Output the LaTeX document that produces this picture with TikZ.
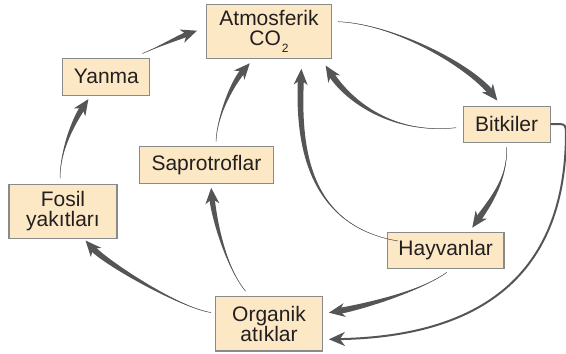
\documentclass[tikz,border=0pt]{standalone}
\usepackage{fontspec}
\setmainfont{Liberation Sans}
\usetikzlibrary{calc,arrows.meta}
\definecolor{boxfill}{HTML}{FCE8C4}
\definecolor{boxline}{HTML}{8A8A8A}
\definecolor{flow}{HTML}{545557}
\definecolor{ink}{HTML}{231F20}

% Tapered flow arrow: thin at the start, widening towards a filled head.
% #1 start, #2 first control, #3 second control, #4 tip, #5 shaft width at the head
\newcommand\tarrow[5]{%
  \coordinate (tS) at (#1);
  \coordinate (tA) at (#2);
  \coordinate (tC) at (#3);
  \coordinate (tT) at (#4);
  \coordinate (tE) at ($(tT)!9pt!(tC)$);
  \coordinate (tEL) at ($(tE)!#5/2!90:(tC)$);
  \coordinate (tER) at ($(tE)!#5/2!-90:(tC)$);
  \coordinate (tCL) at ($(tC)!#5/2!-90:(tE)$);
  \coordinate (tCR) at ($(tC)!#5/2!90:(tE)$);
  \fill[flow] (tS) .. controls (tA) and (tCL) .. (tEL) -- (tER) .. controls (tCR) and (tA) .. (tS) -- cycle;
  \draw[flow, line width=0.5pt] (tS) .. controls (tA) and (tC) .. (tE);
  \coordinate (tB) at ($(tT)!16pt!(tC)$);
  \coordinate (tI) at ($(tT)!11pt!(tC)$);
  \coordinate (tBL) at ($(tB)!7pt!90:(tT)$);
  \coordinate (tBR) at ($(tB)!7pt!-90:(tT)$);
  \fill[flow] (tT) -- (tBL) -- (tI) -- (tBR) -- cycle;
}

\begin{document}
\begin{tikzpicture}[x=1pt,y=-1pt,
  box/.style={draw=boxline, line width=1.1pt, fill=boxfill, inner sep=0pt,
    align=center, text=ink, font=\fontsize{21}{20}\selectfont}]
\useasboundingbox (0,0) rectangle (566,354);

% boxes
\node[box, minimum width=125pt, minimum height=54pt] (atm) at (269,31.7)
  {Atmosferik\\CO\hspace{1pt}\raisebox{-7pt}{\fontsize{12}{12}\selectfont 2}};
\node[box, minimum width=87pt, minimum height=36.7pt] (yan) at (106.4,76.7) {Yanma};
\node[box, minimum width=87pt, minimum height=36.3pt] (bit) at (506.6,124.2) {Bitkiler};
\node[box, minimum width=134pt, minimum height=37pt] (sap) at (206.4,165.2) {Saprotroflar};
\node[box, minimum width=108pt, minimum height=54pt] (fos) at (63,211.3) {Fosil\\yakıtları};
\node[box, minimum width=116.6pt, minimum height=36.2pt] (hay) at (445.7,250.5) {Hayvanlar};
\node[box, minimum width=107.5pt, minimum height=54.3pt] (org) at (269,323.8) {Organik\\atıklar};

% arrow ends
\coordinate (yan-out) at ($(yan.north east)+(-8,-4.3)$);
\coordinate (atm-in1) at ($(atm.west)+(-9,-1)$);
\coordinate (fos-out) at ($(fos.north)+(-3,-5.3)$);
\coordinate (yan-in) at ($(yan.south)+(-18,3.5)$);
\coordinate (sap-out) at ($(sap.north)+(9.6,-4.7)$);
\coordinate (atm-in2) at ($(atm.south)+(-19.2,4)$);
\coordinate (org-out1) at ($(org.north)+(-23.5,-5)$);
\coordinate (sap-in) at ($(sap.south)+(4.8,3.6)$);
\coordinate (org-out2) at ($(org.west)+(-3.7,-11.3)$);
\coordinate (fos-in) at ($(fos.south east)+(-32,1.7)$);
\coordinate (atm-out) at ($(atm.east)+(6,-10)$);
\coordinate (bit-in) at ($(bit.north)+(-9.3,-5)$);
\coordinate (bit-out1) at ($(bit.west)+(-6.5,3.5)$);
\coordinate (atm-in3) at ($(atm.south east)+(-6.4,6.3)$);
\coordinate (hay-out1) at ($(hay.west)+(11,-9.5)$);
\coordinate (atm-in4) at ($(atm.south)+(32.4,9.6)$);
\coordinate (bit-out2) at ($(bit.south)+(0,4.4)$);
\coordinate (hay-in) at ($(hay.north east)+(-32.3,-4.2)$);
\coordinate (hay-out2) at ($(hay.south)+(1,3.2)$);
\coordinate (org-in1) at ($(org.east)+(5.6,-11.1)$);
\coordinate (org-in2) at ($(org.east)+(5.6,15.5)$);

% flows
\tarrow{yan-out}{158,47}{178.4,37.4}{atm-in1}{5pt}
\tarrow{fos-out}{60,150}{74,120.5}{yan-in}{5.5pt}
\tarrow{sap-out}{217,115}{233.4,81.6}{atm-in2}{5.5pt}
\tarrow{org-out1}{224,265}{213,212}{sap-in}{5.5pt}
\tarrow{org-out2}{180,308}{104.9,262.4}{fos-in}{6pt}
\tarrow{atm-out}{395,24}{470,66}{bit-in}{6pt}
\tarrow{bit-out1}{390,135}{346.6,98.7}{atm-in3}{6pt}
\tarrow{hay-out1}{305,225}{298,140}{atm-in4}{6pt}
\tarrow{bit-out2}{508,180}{488.9,203.7}{hay-in}{6pt}
\tarrow{hay-out2}{420,292}{359,307.6}{org-in1}{6pt}

\draw[flow, line width=2pt, -{Stealth[length=16pt,width=14pt,inset=5pt]}]
  (bit.east) -- (561,124.2) .. controls (565,124.2) and (566,127) .. (566,133)
  .. controls (566,250) and (508,336) .. (org-in2);
\end{tikzpicture}
\end{document}
